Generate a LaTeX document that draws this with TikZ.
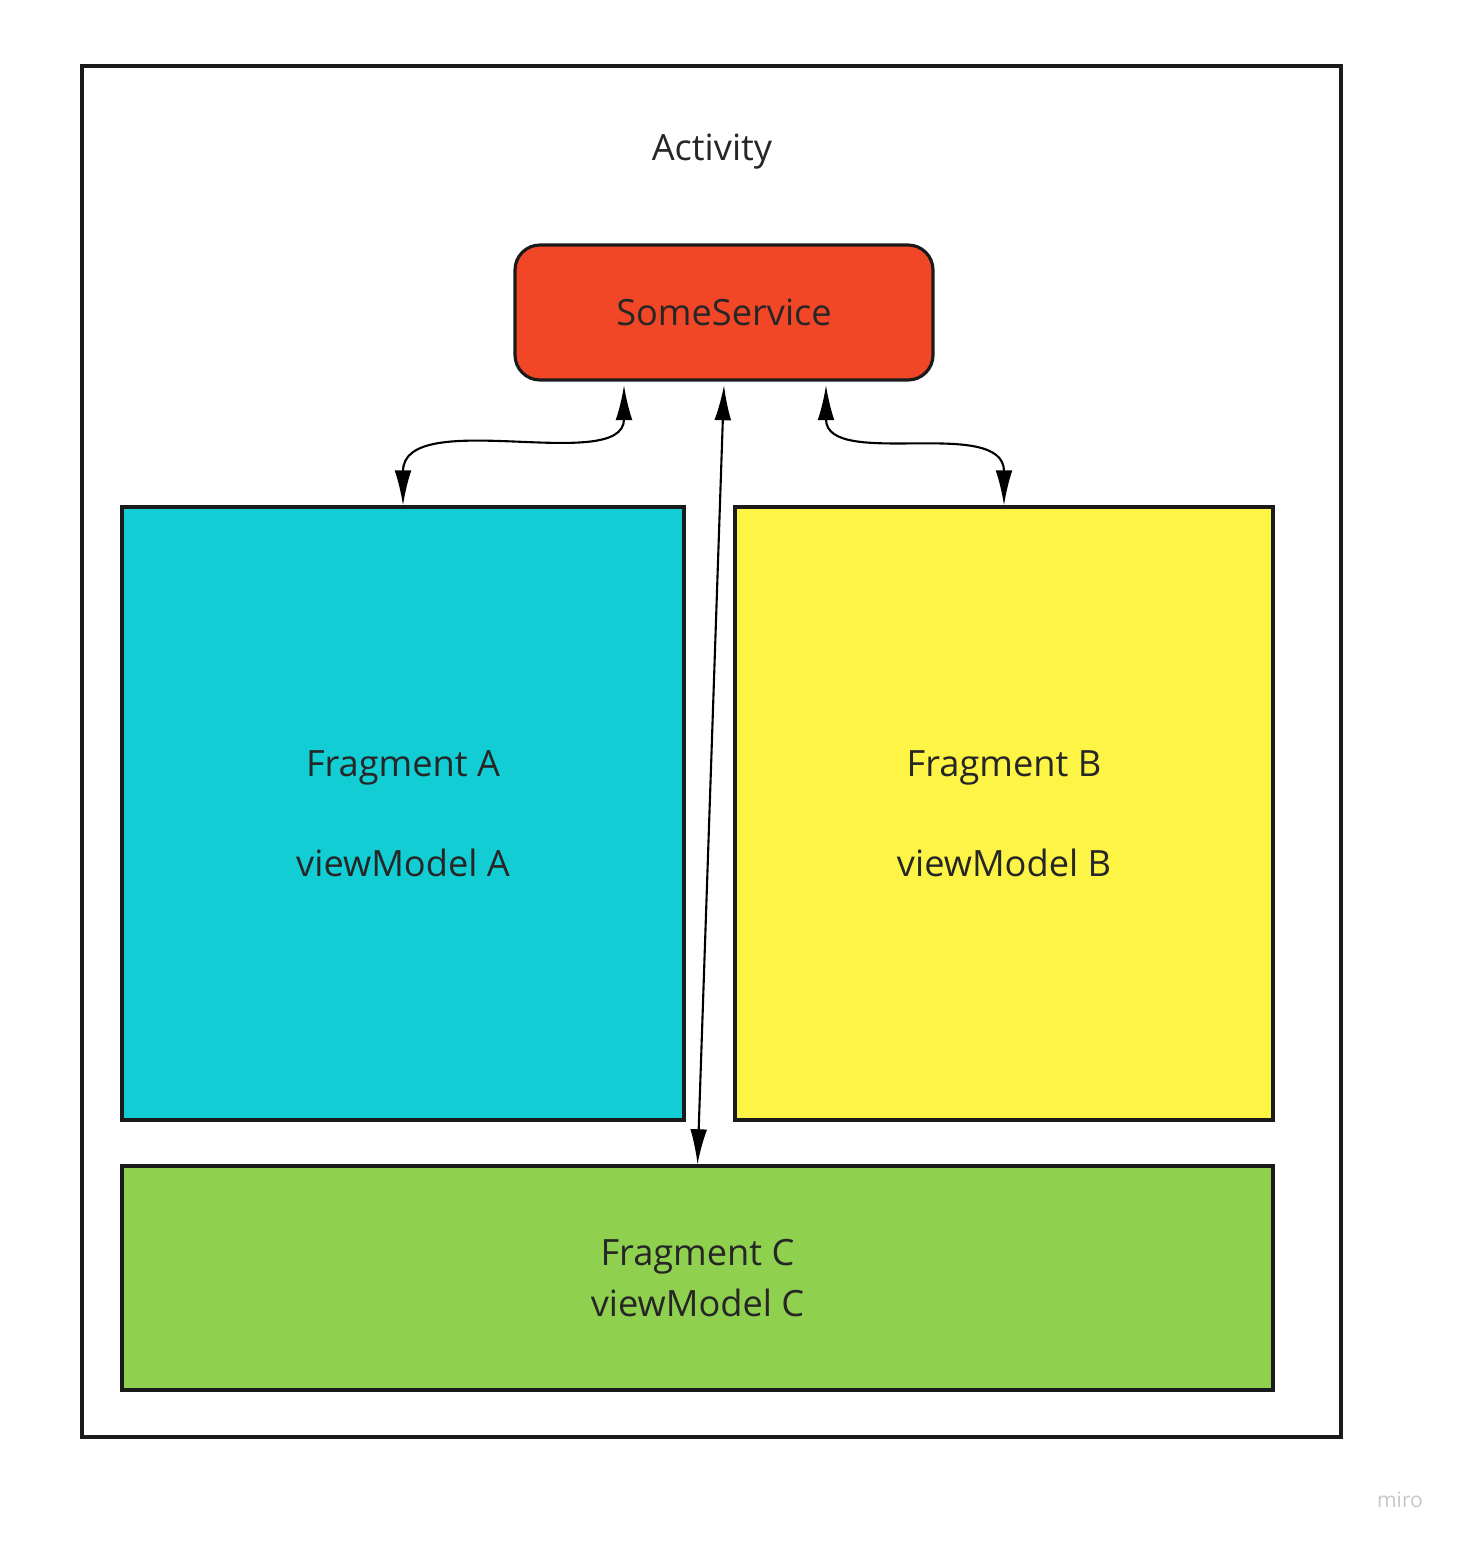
\documentclass[tikz,border=0pt]{standalone}
\usepackage{fontspec}
\setmainfont{Open Sans}
\usetikzlibrary{arrows.meta,positioning}
\definecolor{svcred}{HTML}{F24726}
\definecolor{fragcyan}{HTML}{12CDD4}
\definecolor{fragyellow}{HTML}{FEF445}
\definecolor{fraggreen}{HTML}{8FD14F}
\definecolor{boxline}{HTML}{1A1A1A}

\begin{document}
\begin{tikzpicture}[<->,>={Latex[length=10pt,width=4.8pt]},semithick]
			\tikzstyle{every node}=[font=\fontsize{10.3}{14.5}\selectfont,text=black!85]
			\tikzstyle{box}=[draw=boxline,line width=0.9pt,align=center,inner sep=0pt]
			\useasboundingbox (0,0) rectangle (14.58,-15.42);
			\node[box,minimum width=12.59cm,minimum height=13.71cm] (act) at (7.115,-7.515) {};
			\node (acttext) at (7.12,-1.52) {Activity};
			\node[box,fill=svcred,rounded corners=0.25cm,minimum width=4.18cm,minimum height=1.35cm] (svc) at (7.24,-3.125) {SomeService};
			\node[box,fill=fragcyan,minimum width=5.62cm,minimum height=6.13cm] (fa) at (4.03,-8.135) {Fragment A\\[14pt]viewModel A};
			\node[box,fill=fragyellow,minimum width=5.38cm,minimum height=6.13cm] (fb) at (10.04,-8.135) {Fragment B\\[14pt]viewModel B};
			\node[box,fill=fraggreen,minimum width=11.51cm,minimum height=2.24cm] (fc) at (6.975,-12.78) {Fragment C\\viewModel C};
			\node[text=black!22,font=\fontsize{6}{7}\selectfont] (miro) at (14.0,-15.0) {miro};
			\draw ([xshift=-1cm,yshift=-1pt]svc.south) .. controls +(0,-0.9) and +(0,1.0) .. (fa.north);
			\draw ([xshift=1.02cm,yshift=-1pt]svc.south) .. controls +(0,-0.85) and +(0,0.9) .. (fb.north);
			\path
			([yshift=-1pt]svc.south) edge (fc.north);
		\end{tikzpicture}
\end{document}
